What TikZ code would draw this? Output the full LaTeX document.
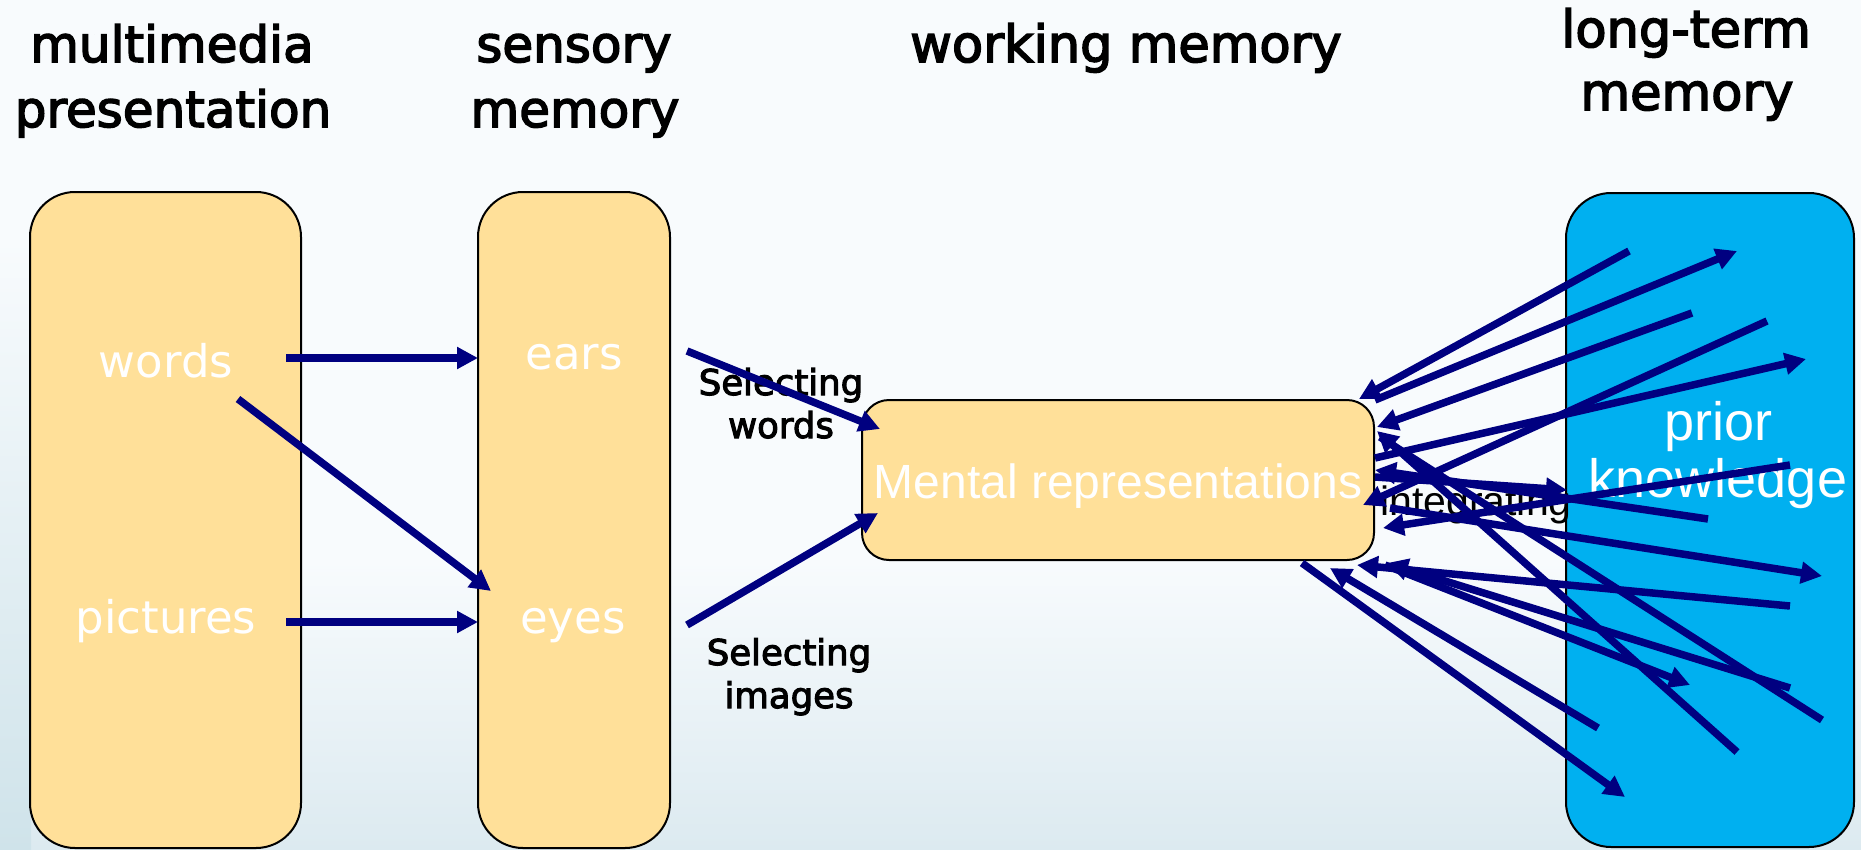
\documentclass[tikz,border=0pt]{standalone}
\usepackage{fontspec}
\usetikzlibrary{arrows.meta}
\newfontfamily\dvfont{DejaVu Sans}
\newfontfamily\dvheavy[FakeBold=3]{DejaVu Sans}
\newfontfamily\arfont{Liberation Sans}
\definecolor{sand}{HTML}{FFE099}
\definecolor{ltmblue}{HTML}{00B0F0}
\definecolor{navyarr}{HTML}{000080}
\definecolor{bgA}{HTML}{F8FBFD}
\definecolor{bgB}{HTML}{DCEAF0}
\definecolor{bgC}{HTML}{CFE3EA}

\begin{document}
\begin{tikzpicture}[x=1pt,y=-1pt,
  stagebox/.style={draw=black, line width=2pt, fill=sand, rounded corners=45pt, inner sep=0pt},
  head/.style={inner sep=0pt, anchor=base, font=\dvheavy\fontsize{50}{60}\selectfont},
  whitelab/.style={inner sep=0pt, anchor=base, text=white, font=\dvfont\fontsize{45}{54}\selectfont},
  sellab/.style={inner sep=0pt, anchor=base, font=\dvheavy\fontsize{35.5}{43}\selectfont},
  arr/.style={draw=navyarr, line width=7.5pt, -{Triangle[length=21pt,width=21pt]}},
  bar/.style={draw=navyarr, line width=7.5pt}
]
% slide background
\useasboundingbox (0,0) rectangle (1861,849);
\fill[bgA] (0,0) rectangle (1861,849);
\shade[top color=bgA, bottom color=bgB] (0,560) rectangle (1861,849.5);
\shade[top color=bgA, bottom color=bgC] (0,240) rectangle (31,849.5);

% the four stores
\node[stagebox, minimum width=271pt, minimum height=656pt] (pres) at (165.5,520) {};
\node[stagebox, minimum width=192pt, minimum height=656pt] (sens) at (574,520) {};
\node[stagebox, rounded corners=27pt, minimum width=512pt, minimum height=160pt] (work) at (1118,480) {};
\node[stagebox, fill=ltmblue, minimum width=288pt, minimum height=654pt] (ltm) at (1710,520) {};

% column headings
\node[head] (h1a) at (172,62) {multimedia};
\node[head] (h1b) at (173,127) {presentation};
\node[head] (h2a) at (574,62) {sensory};
\node[head] (h2b) at (575,127) {memory};
\node[head, font=\dvheavy\fontsize{51}{60}\selectfont] (h3) at (1126,62) {working memory};
\node[head, font=\dvheavy\fontsize{51}{60}\selectfont] (h4a) at (1686,47) {long-term};
\node[head, font=\dvheavy\fontsize{51}{60}\selectfont] (h4b) at (1687,110) {memory};

% labels inside the stores
\node[whitelab] (words) at (166,377) {words};
\node[whitelab] (pictures) at (166,633) {pictures};
\node[whitelab] (ears) at (574,369) {ears};
\node[whitelab] (eyes) at (573,633) {eyes};
\node[inner sep=0pt, anchor=base, text=white, font=\arfont\fontsize{48}{56}\selectfont] (mental) at (1118,498) {Mental representations};
\node[inner sep=0pt, anchor=base, text=white, font=\arfont\fontsize{54}{60}\selectfont] (prior) at (1718,440) {prior};
\node[inner sep=0pt, anchor=base, text=white, font=\arfont\fontsize{54}{60}\selectfont] (knowledge) at (1718,497) {knowledge};

% process labels
\node[sellab] (sw1) at (781,395) {Selecting};
\node[sellab] (sw2) at (781,438) {words};
\node[sellab] (si1) at (789,665) {Selecting};
\node[sellab] (si2) at (789,708) {images};
\node[inner sep=0pt, anchor=base west, font=\arfont\fontsize{41}{48}\selectfont] (integ) at (1380,515) {integrating};

% connector end points
\coordinate (wS) at (286,358);   \coordinate (earsIn) at (478,358);
\coordinate (pS) at (286,622);   \coordinate (eyesIn) at (478,622);
\coordinate (wD) at (238,399);   \coordinate (eyesTop) at (491,591);
\coordinate (earsOut) at (687,351); \coordinate (workA) at (880,429);
\coordinate (eyesOut) at (687,625); \coordinate (workB) at (878,513);

\coordinate (a1) at (1629,251); \coordinate (a2) at (1359,399);
\coordinate (b1) at (1375,400); \coordinate (b2) at (1737,251);
\coordinate (c1) at (1692,313); \coordinate (c2) at (1377,427);
\coordinate (d1) at (1767,321); \coordinate (d2) at (1363,505);
\coordinate (e1) at (1375,458); \coordinate (e2) at (1806,359);
\coordinate (f1) at (1790,465); \coordinate (f2) at (1383,528);
\coordinate (g1) at (1708,519); \coordinate (g2) at (1375,470);
\coordinate (i1) at (1375,477); \coordinate (i2) at (1567,490);
\coordinate (j1) at (1390,508); \coordinate (j2) at (1822,576);
\coordinate (k1) at (1737,752); \coordinate (k2) at (1377,431);
\coordinate (l1) at (1380,437); \coordinate (l2) at (1822,720);
\coordinate (m1) at (1790,606); \coordinate (m2) at (1357,565);
\coordinate (n1) at (1790,688); \coordinate (n2) at (1387,563);
\coordinate (o1) at (1385,565); \coordinate (o2) at (1690,685);
\coordinate (p1) at (1598,728); \coordinate (p2) at (1330,568);
\coordinate (q1) at (1302,563); \coordinate (q2) at (1625,797);

% selecting
\draw[arr] (wS) -- (earsIn);
\draw[arr] (pS) -- (eyesIn);
\draw[arr] (wD) -- (eyesTop);
\draw[arr] (earsOut) -- (workA);
\draw[arr] (eyesOut) -- (workB);

% integrating with prior knowledge
\draw[arr] (a1) -- (a2);
\draw[arr] (b1) -- (b2);
\draw[arr] (c1) -- (c2);
\draw[arr] (d1) -- (d2);
\draw[arr] (e1) -- (e2);
\draw[arr] (f1) -- (f2);
\draw[arr] (g1) -- (g2);
\draw[arr] (i1) -- (i2);
\draw[arr] (j1) -- (j2);
\draw[arr] (k1) -- (k2);
\draw[bar] (l1) -- (l2);
\draw[arr] (m1) -- (m2);
\draw[arr] (n1) -- (n2);
\draw[arr] (o1) -- (o2);
\draw[arr] (p1) -- (p2);
\draw[arr] (q1) -- (q2);
\end{tikzpicture}
\end{document}
